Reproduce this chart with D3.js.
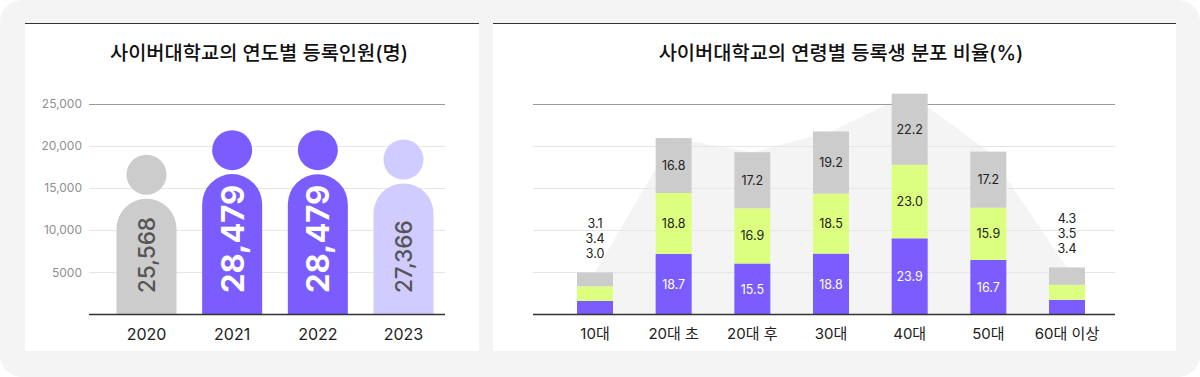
<!DOCTYPE html>
<html>
<head>
<meta charset="utf-8">
<script src="https://cdn.jsdelivr.net/npm/d3@7"></script>
<style>
  body { margin: 0; background: #fff; }
  text { font-family: Inter, "Noto Sans CJK KR", sans-serif; }
  .title { font-size: 19.8px; font-weight: 500; fill: #111; }
  .grid-line { stroke: #e6e6e6; stroke-width: 1; }
  .grid-top { stroke: #9a9a9a; stroke-width: 1.2; }
  .baseline { stroke: #333; stroke-width: 1.5; }
  .tick-label { font-size: 12px; fill: #8f8f8f; }
  .x-label { font-size: 16px; fill: #222; }
  .age-label { font-size: 15px; fill: #222; }
  .seg-label { font-size: 12.5px; }
</style>
</head>
<body>
<div id="chart-area"></div>
<script>
// data
const years = ["2020", "2021", "2022", "2023"]
const enrollments = [25568, 28479, 28479, 27366]
const yTicks = [5000, 10000, 15000, 20000, 25000]

const ageGroups = ["10대", "20대 초", "20대 후", "30대", "40대", "50대", "60대 이상"]
const purpleShare = [3.0, 18.7, 15.5, 18.8, 23.9, 16.7, 3.4]
const limeShare = [3.4, 18.8, 16.9, 18.5, 23.0, 15.9, 3.5]
const grayShare = [3.1, 16.8, 17.2, 19.2, 22.2, 17.2, 4.3]

function drawChart() {

  // 1. dimensions
  const width = 1200
  const height = 377
  const baseY = 314.5

  const figureColors = ["#cccccc", "#7b5cff", "#7b5cff", "#d0ccff"]
  const figureText = ["#555", "#fff", "#fff", "#555"]
  const figureBold = [false, true, true, false]
  const segColors = ["#7b5cff", "#ddff80", "#cccccc"]
  const segText = ["#fff", "#222", "#222"]

  // 2. draw canvas
  const wrapper = d3.select("#chart-area")
    .append("svg")
      .attr("width", width)
      .attr("height", height)

  wrapper.append("rect")
    .attr("width", width)
    .attr("height", height)
    .attr("rx", 22)
    .attr("fill", "#f4f4f4")

  const panels = [
    {x: 25, w: 454},
    {x: 493, w: 683},
  ]
  panels.forEach(p => {
    wrapper.append("rect")
      .attr("x", p.x)
      .attr("y", 23)
      .attr("width", p.w)
      .attr("height", 328)
      .attr("fill", "#fff")
    wrapper.append("line")
      .attr("x1", p.x)
      .attr("x2", p.x + p.w)
      .attr("y1", 23.5)
      .attr("y2", 23.5)
      .attr("stroke", "#333")
      .attr("stroke-width", 1.2)
  })

  // ---------- left chart: enrolment per year ----------
  const left = wrapper.append("g")

  left.append("text")
    .attr("class", "title")
    .attr("x", 259)
    .attr("y", 53)
    .attr("text-anchor", "middle")
    .attr("dominant-baseline", "central")
    .text("사이버대학교의 연도별 등록인원(명)")

  const yScale = d3.scaleLinear()
    .domain([0, 25000])
    .range([baseY, 103.5])

  const xScale = d3.scalePoint()
    .domain(years)
    .range([146.5, 403.5])

  const gridL = [89, 445]
  yTicks.forEach(d => {
    left.append("line")
      .attr("class", d === 25000 ? "grid-top" : "grid-line")
      .attr("x1", gridL[0])
      .attr("x2", gridL[1])
      .attr("y1", Math.round(yScale(d)) + 0.5)
      .attr("y2", Math.round(yScale(d)) + 0.5)
  })

  const yAxis = d3.axisLeft(yScale)
    .tickValues(yTicks)
    .tickSize(0)
    .tickPadding(0)
    .tickFormat(d => d >= 10000 ? d3.format(",")(d) : d)

  const yAxisG = left.append("g")
    .attr("transform", "translate(82,0)")
    .call(yAxis)
  yAxisG.select(".domain").remove()
  yAxisG.selectAll("text")
    .attr("class", "tick-label")
    .attr("fill", null)
    .attr("font-family", null)
    .attr("font-size", null)

  // person figures
  const bodyW = 60
  const headR = 20
  const bodyOffset = 100   // figure sits a little below its value on the axis
  enrollments.forEach((v, i) => {
    const cx = xScale(years[i])
    const top = yScale(v) + bodyOffset
    const x0 = cx - bodyW / 2
    const r = bodyW / 2
    const path = d3.path()
    path.moveTo(x0, baseY)
    path.lineTo(x0, top + r)
    path.arc(cx, top + r, r, Math.PI, 0)
    path.lineTo(x0 + bodyW, baseY)
    path.closePath()
    left.append("path")
      .attr("d", path.toString())
      .attr("fill", figureColors[i])

    left.append("circle")
      .attr("cx", cx)
      .attr("cy", top - 4 - headR)
      .attr("r", headR)
      .attr("fill", figureColors[i])

    left.append("text")
      .attr("transform", `translate(${cx},293) rotate(-90)`)
      .attr("text-anchor", "start")
      .attr("dominant-baseline", "central")
      .attr("fill", figureText[i])
      .attr("font-size", figureBold[i] ? 31 : 22.5)
      .attr("font-weight", figureBold[i] ? 700 : 500)
      .text(d3.format(",")(v))
  })

  left.append("line")
    .attr("class", "baseline")
    .attr("x1", gridL[0])
    .attr("x2", gridL[1])
    .attr("y1", baseY)
    .attr("y2", baseY)

  years.forEach(d => {
    left.append("text")
      .attr("class", "x-label")
      .attr("x", xScale(d))
      .attr("y", 334)
      .attr("text-anchor", "middle")
      .attr("dominant-baseline", "central")
      .text(d)
  })

  // ---------- right chart: age distribution ----------
  const right = wrapper.append("g")

  right.append("text")
    .attr("class", "title")
    .attr("x", 841)
    .attr("y", 53)
    .attr("text-anchor", "middle")
    .attr("dominant-baseline", "central")
    .text("사이버대학교의 연령별 등록생 분포 비율(%)")

  const ageScale = d3.scalePoint()
    .domain(ageGroups)
    .range([595, 1067])

  // segment length in px for a share in %
  const segScale = d3.scaleLinear()
    .domain([0, 10])
    .range([4.5, 34.5])

  const gridScale = d3.scaleLinear()
    .domain([0, 5])
    .range([baseY, 103.5])

  const barW = 36
  const gridR = [533, 1115]

  const stacks = ageGroups.map((g, i) => {
    const vals = [purpleShare[i], limeShare[i], grayShare[i]]
    let y = baseY
    const segs = vals.map((v, k) => {
      const h = segScale(v)
      const s = {key: k, value: v, y0: y, y1: y - h}
      y -= h
      return s
    })
    return {group: g, segs, top: y, total: d3.sum(vals)}
  })

  // background mountain through the bar tops
  const area = d3.area()
    .x(d => ageScale(d.group))
    .y0(baseY)
    .y1(d => d.top)

  right.append("path")
    .attr("d", area(stacks))
    .attr("fill", "#f4f4f4")

  d3.range(1, 6).forEach(d => {
    right.append("line")
      .attr("class", d === 5 ? "grid-top" : "grid-line")
      .attr("x1", gridR[0])
      .attr("x2", gridR[1])
      .attr("y1", Math.round(gridScale(d)) + 0.5)
      .attr("y2", Math.round(gridScale(d)) + 0.5)
  })

  stacks.forEach(st => {
    const cx = ageScale(st.group)
    st.segs.forEach(s => {
      right.append("rect")
        .attr("x", cx - barW / 2)
        .attr("y", s.y1)
        .attr("width", barW)
        .attr("height", s.y0 - s.y1)
        .attr("fill", segColors[s.key])
    })

    if (st.total > 20) {
      st.segs.forEach(s => {
        right.append("text")
          .attr("class", "seg-label")
          .attr("x", cx)
          .attr("y", (s.y0 + s.y1) / 2)
          .attr("text-anchor", "middle")
          .attr("dominant-baseline", "central")
          .attr("fill", segText[s.key])
          .text(d3.format(".1f")(s.value))
      })
    } else {
      // small bars: values listed above, top segment first
      st.segs.forEach((s, k) => {
        right.append("text")
          .attr("class", "seg-label")
          .attr("x", cx)
          .attr("y", st.top - 19 - 15 * k)
          .attr("text-anchor", "middle")
          .attr("dominant-baseline", "central")
          .attr("fill", "#222")
          .text(d3.format(".1f")(s.value))
      })
    }
  })

  right.append("line")
    .attr("class", "baseline")
    .attr("x1", gridR[0])
    .attr("x2", gridR[1])
    .attr("y1", baseY)
    .attr("y2", baseY)

  ageGroups.forEach(d => {
    right.append("text")
      .attr("class", "age-label")
      .attr("x", ageScale(d))
      .attr("y", 333)
      .attr("text-anchor", "middle")
      .attr("dominant-baseline", "central")
      .text(d)
  })
}
drawChart()
</script>
</body>
</html>
